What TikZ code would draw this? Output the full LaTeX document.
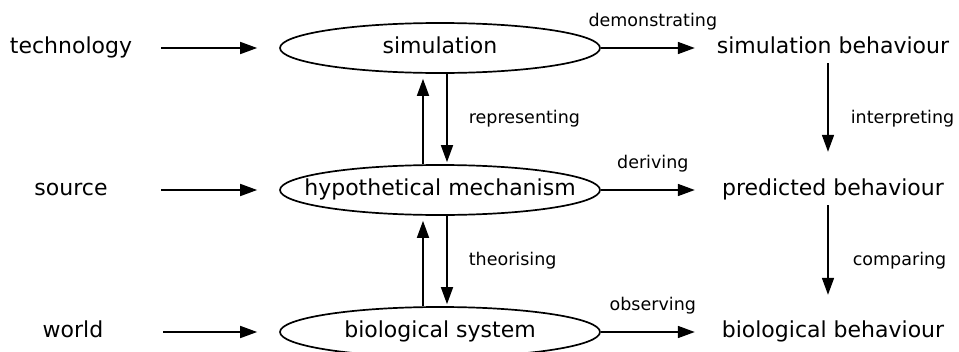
\documentclass[tikz,border=0pt]{standalone}
\usepackage{fontspec}
\setmainfont{DejaVu Sans}
\usetikzlibrary{shapes.geometric,arrows.meta}
% text that may overhang its box, so every ellipse keeps the same size
\newcommand{\overhang}[1]{\makebox[0pt][c]{#1}}
\begin{document}
\begin{tikzpicture}[x=1pt,y=-1pt,
  term/.style={inner sep=0pt, font=\fontsize{22}{25}\selectfont,
    text height=15pt, text depth=5pt, minimum height=30pt},
  source/.style={term, minimum width=180pt},
  outcome/.style={term, minimum width=276pt},
  mech/.style={ellipse, draw, line width=1.7pt, inner sep=0pt,
    minimum width=320pt, minimum height=50pt,
    font=\fontsize{22}{25}\selectfont, text height=15pt, text depth=5pt},
  flow/.style={-{Triangle[length=17pt,width=12pt]}, line width=1.7pt},
  lab/.style={inner sep=0pt, font=\fontsize{17.5}{20}\selectfont,
    text height=12pt, text depth=4pt},
  over/.style={lab, midway, xshift=5pt, yshift=26pt},
  beside/.style={lab, midway, anchor=west, xshift=21pt}]
\useasboundingbox (0,0) rectangle (959,351);

% sources on the left
\node[source] (tech)   at (71,48)  {technology};
\node[source] (src)    at (71,190) {source};
\node[source] (world)  at (73,332) {world};

% the three levels of description
\node[mech] (sim) at (440,48)  {\overhang{simulation}};
\node[mech] (hyp) at (440,190) {\overhang{hypothetical mechanism}};
\node[mech] (bio) at (440,332) {\overhang{biological system}};

% behaviours on the right
\node[outcome] (simb)  at (833,48)  {simulation behaviour};
\node[outcome] (predb) at (833,190) {predicted behaviour};
\node[outcome] (biob)  at (833,332) {biological behaviour};

% inputs
\draw[flow, shorten >=22pt] (tech)  -- (sim);
\draw[flow, shorten >=22pt] (src)   -- (hyp);
\draw[flow, shorten >=22pt] (world) -- (bio);

% outputs
\draw[flow] (sim.east) -- (simb.west) node[over] {demonstrating};
\draw[flow] (hyp.east) -- (predb.west) node[over] {deriving};
\draw[flow] (bio.east) -- (biob.west) node[over] {observing};

% links between levels
\draw[flow, shorten >=5pt] ([xshift=-17pt]hyp.north) -- ([xshift=-17pt]sim.south);
\draw[flow, shorten >=2pt] ([xshift=7pt]sim.south) -- ([xshift=7pt]hyp.north)
  node[beside] {representing};
\draw[flow, shorten >=5pt] ([xshift=-17pt]bio.north) -- ([xshift=-17pt]hyp.south);
\draw[flow, shorten >=2pt] ([xshift=7pt]hyp.south) -- ([xshift=7pt]bio.north)
  node[beside] {theorising};

% from simulation to biology on the right
\draw[flow, shorten >=23pt] ([xshift=-5pt]simb.south) -- ([xshift=-5pt]predb.north)
  node[beside, xshift=1pt] {interpreting};
\draw[flow, shorten >=22pt] ([xshift=-5pt]predb.south) -- ([xshift=-5pt]biob.north)
  node[beside, xshift=3pt] {comparing};
\end{tikzpicture}
\end{document}
